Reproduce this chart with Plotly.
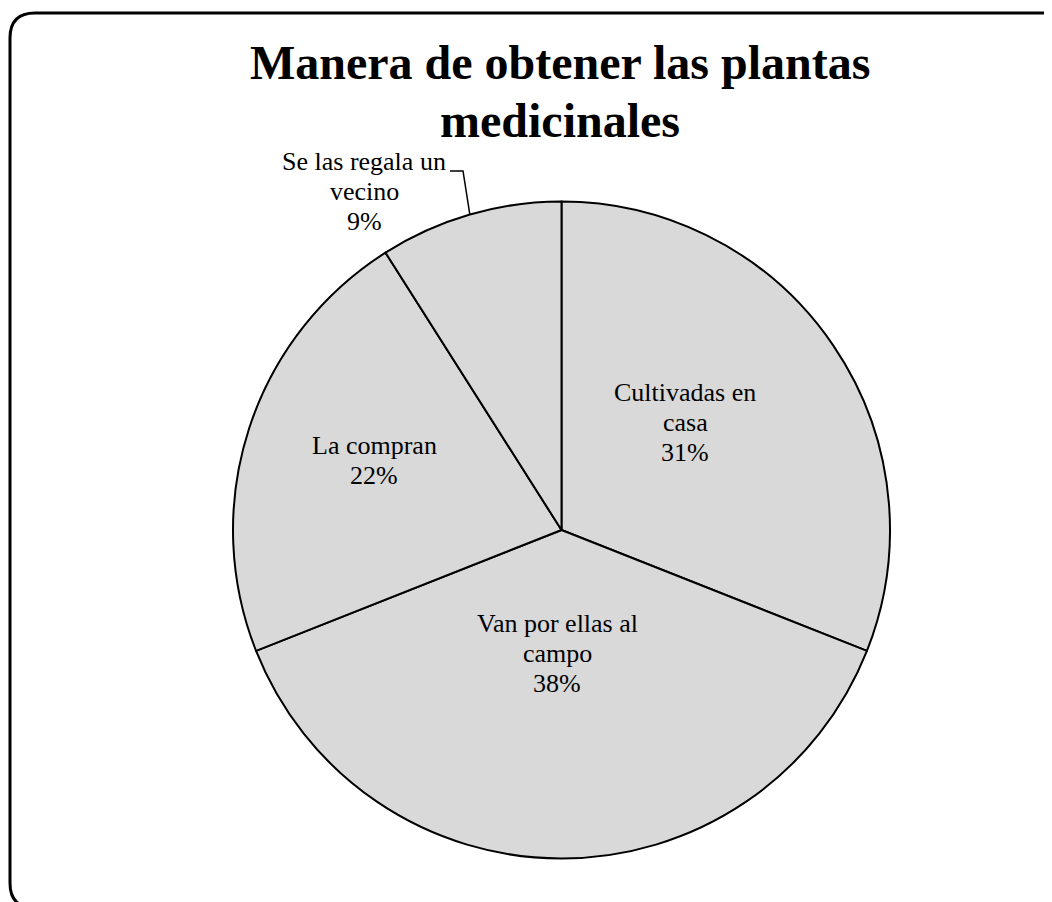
import math
import plotly.graph_objects as go

# data
categories = ["Cultivadas en casa", "Van por ellas al campo", "La compran", "Se las regala un vecino"]
percentages = [31, 38, 22, 9]
label_lines = [
    ["Cultivadas en", "casa", "31%"],
    ["Van por ellas al", "campo", "38%"],
    ["La compran", "22%"],
    ["Se las regala un", "vecino", "9%"],
]
title_lines = ["Manera de obtener las plantas", "medicinales"]

W, H = 1052, 902
OFF = 8  # page body margin, work in window pixels
cx, cy, R = 561.5, 530, 328.5
FONT = "Liberation Serif, Times New Roman, serif"

# x centre and baseline of first line for each label block (window pixels)
label_pos = [(685, 402), (557, 633), (374, 455), (364, 171)]
LINE_GAP = 30

fig = go.Figure()

fig.add_trace(go.Pie(
    labels=categories,
    values=percentages,
    sort=False,
    direction="clockwise",
    rotation=0,
    textinfo="none",
    hoverinfo="label+percent",
    marker=dict(colors=["#d9d9d9"] * len(categories), line=dict(color="black", width=2)),
    domain=dict(x=[(cx - R - OFF) / W, (cx + R - OFF) / W],
                y=[1 - (cy + R - OFF) / H, 1 - (cy - R - OFF) / H]),
    showlegend=False,
))

annotations = []
for i, line in enumerate(title_lines):
    annotations.append(dict(x=560, y=62 + i * 58, xref="x", yref="y", text="<b>" + line + "</b>",
                            showarrow=False, xanchor="center", yanchor="middle",
                            font=dict(family=FONT, size=48, color="black")))

for lines, (lx, base) in zip(label_lines, label_pos):
    for j, t in enumerate(lines):
        annotations.append(dict(x=lx, y=base - 10 + j * LINE_GAP, xref="x", yref="y", text=t,
                                showarrow=False, xanchor="center", yanchor="middle",
                                font=dict(family=FONT, size=26, color="black")))

# leader line for the small slice: arc midpoint -> label
start = sum(percentages[:3])
mid = (start + percentages[3] / 2) / sum(percentages) * 2 * math.pi
ax_, ay_ = cx + R * math.sin(mid), cy - R * math.cos(mid)

r = 25
x0, y0, x1, y1 = 10, 13, 1075, 908
frame = (f"M {x0 + r},{y0} L {x1 - r},{y0} Q {x1},{y0} {x1},{y0 + r} L {x1},{y1 - r} "
         f"Q {x1},{y1} {x1 - r},{y1} L {x0 + r},{y1} Q {x0},{y1} {x0},{y1 - r} "
         f"L {x0},{y0 + r} Q {x0},{y0} {x0 + r},{y0} Z")

shapes = [
    dict(type="path", path=frame, xref="x", yref="y", line=dict(color="black", width=3)),
    dict(type="path", path=f"M {ax_},{ay_} L 463,171 L 450,171", xref="x", yref="y",
         line=dict(color="black", width=1.5)),
]

fig.update_layout(
    width=W, height=H,
    margin=dict(l=0, r=0, t=0, b=0),
    paper_bgcolor="white", plot_bgcolor="rgba(0,0,0,0)",
    xaxis=dict(range=[OFF, W + OFF], visible=False, fixedrange=True),
    yaxis=dict(range=[H + OFF, OFF], visible=False, fixedrange=True),
    annotations=annotations,
    shapes=shapes,
)

fig.write_html("out.html")
